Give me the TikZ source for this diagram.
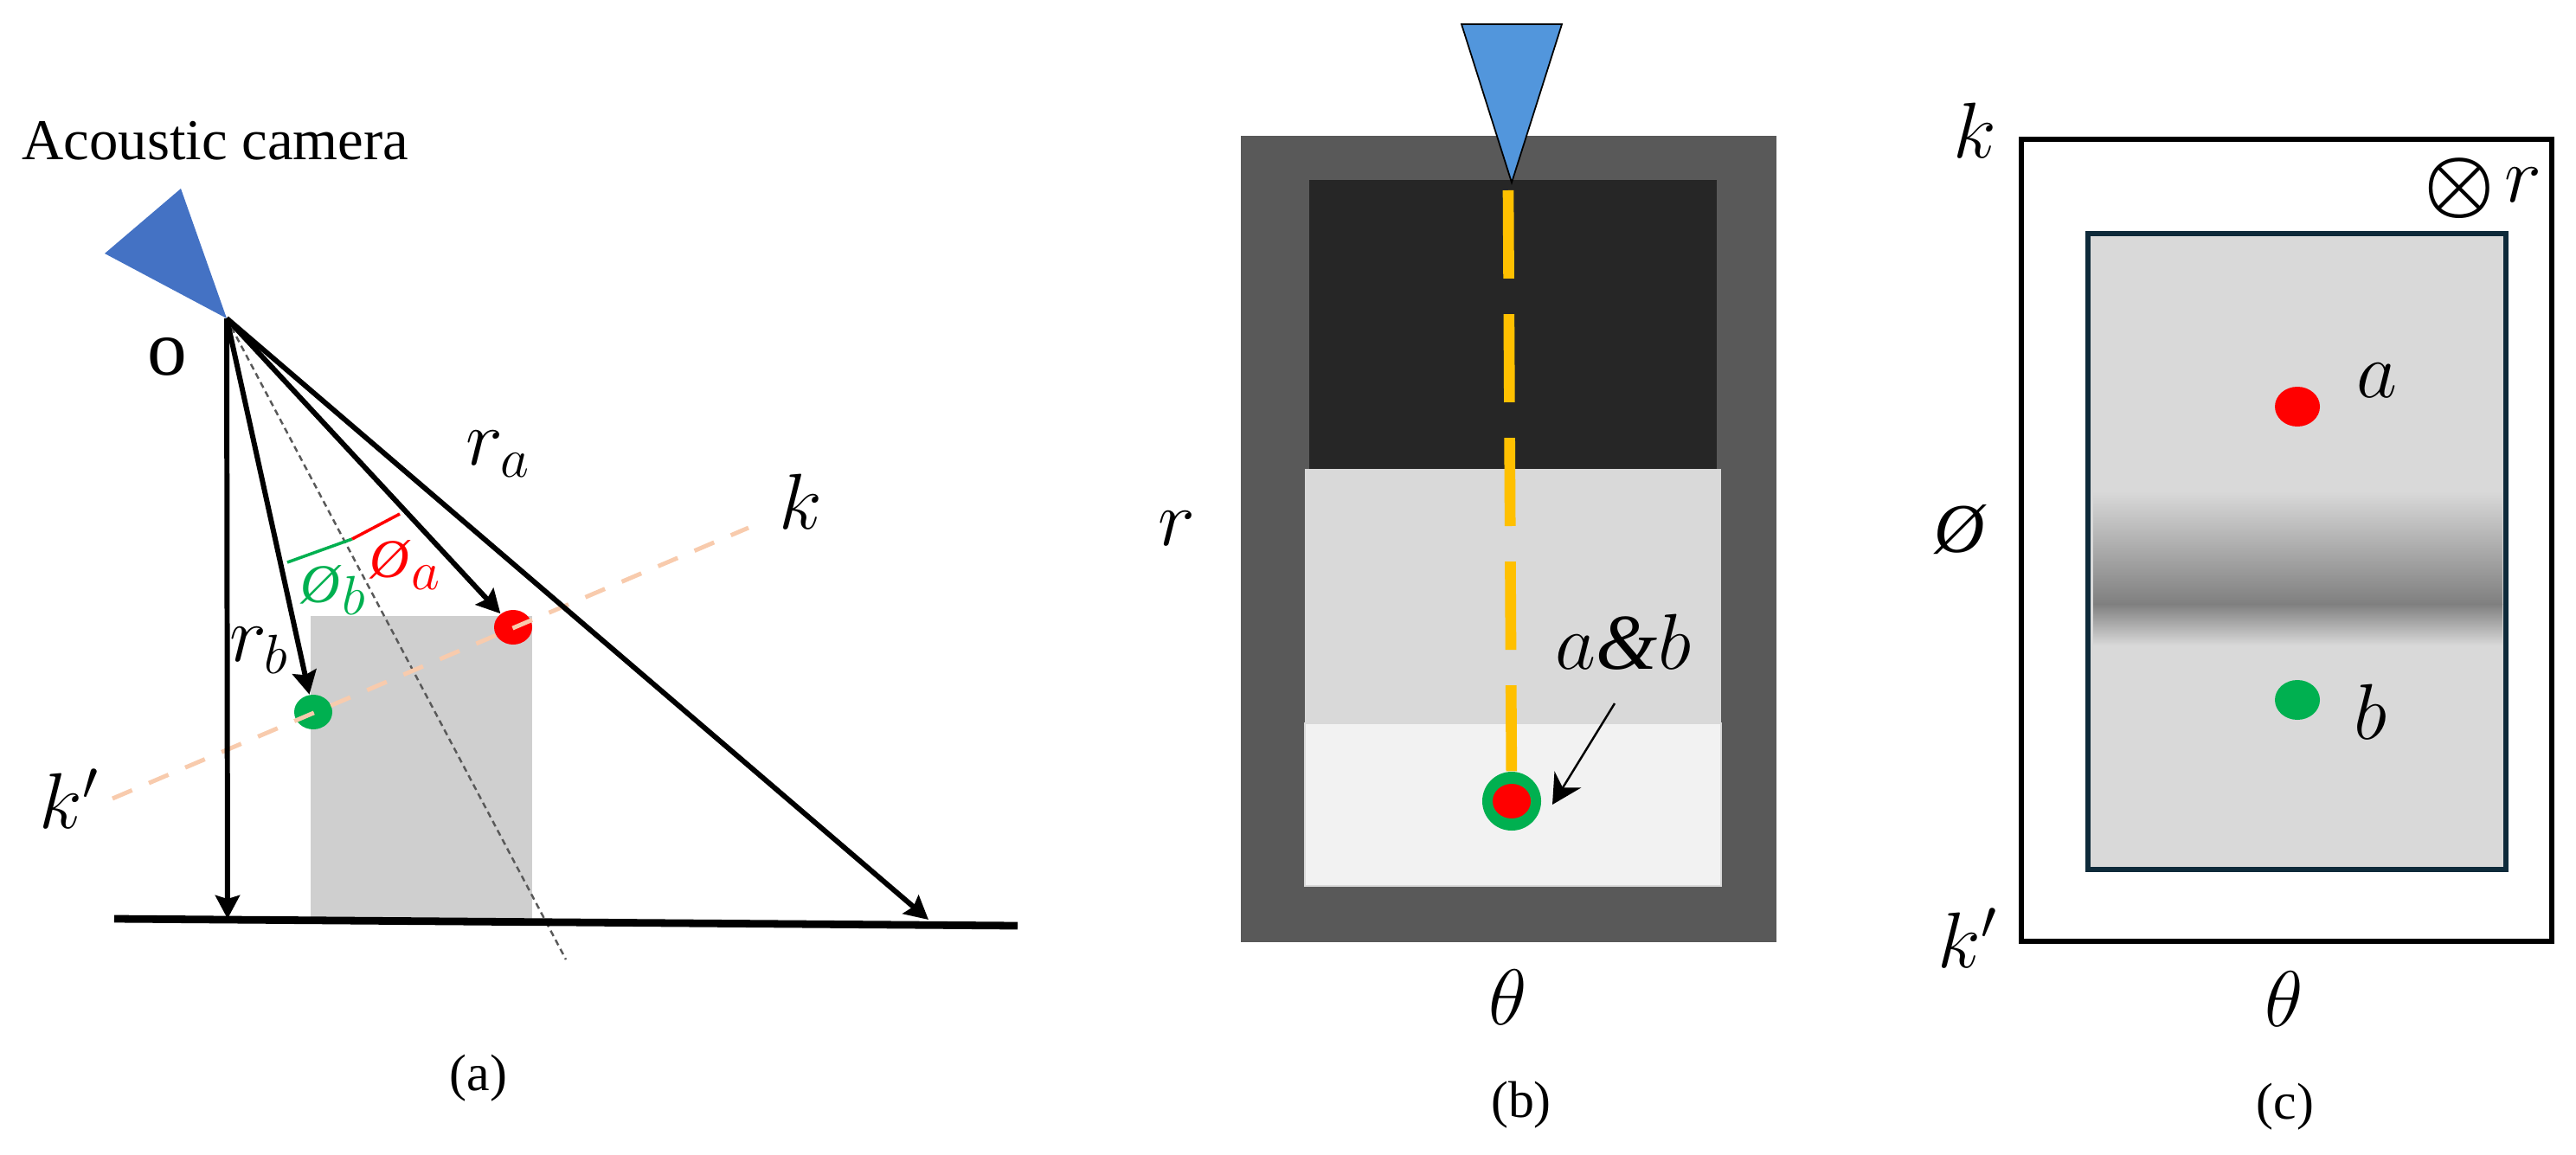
\documentclass[tikz,border=0pt]{standalone}
\usepackage{fix-cm}
\usepackage{amsmath,amssymb}
\usepackage{fontspec}
\setmainfont{Liberation Serif}
\usepackage{xcolor}
\usetikzlibrary{arrows.meta,shapes.geometric}

\definecolor{camblue}{HTML}{4472C4}
\definecolor{camlight}{HTML}{5296DC}
\definecolor{dotgreen}{HTML}{00B050}
\definecolor{dashpeach}{HTML}{F8CBAD}
\definecolor{beamgold}{HTML}{FFC000}
\definecolor{framenavy}{HTML}{0E2A3A}

\tikzset{
	ray/.style={line width=1.7pt, -{Stealth[length=2.7mm,width=2.8mm,inset=0.4mm]}},
	mathlabel/.style={inner sep=0pt, font=\fontsize{26}{30}\selectfont},
	caption/.style={inner sep=0pt, font=\fontsize{17}{20}\selectfont},
	spot/.style={ellipse, inner sep=0pt, minimum width=#1}
}
\newcommand{\phisign}[1]{{\fontsize{#1}{20}\selectfont\textit{\O}}}

\begin{document}
\begin{tikzpicture}[x=1cm, y=-1cm]
				\useasboundingbox (0,0) rectangle (29.77,13.34);

				% (a)
				\fill[fill=black!19] (3.59,7.12) rectangle (6.15,10.62);
				\fill[camblue] (2.09,2.18) -- (1.21,2.93) -- (2.62,3.68) -- cycle;

				\coordinate (O) at (2.62,3.68);
				\coordinate (floorL) at (1.32,10.62);
				\coordinate (floorR) at (11.76,10.70);
				\coordinate (footO) at (2.63,10.62);
				\coordinate (footFar) at (10.73,10.63);
				\coordinate (axisEnd) at (6.54,11.09);
				\coordinate (kEnd) at (8.65,6.10);
				\coordinate (kpEnd) at (1.30,9.23);
				\coordinate (arcL) at (3.32,6.50);
				\coordinate (arcM) at (4.07,6.23);
				\coordinate (arcR) at (4.62,5.94);

				\node[spot=0.44cm, minimum height=0.40cm, fill=red] (dotA) at (5.93,7.25) {};
				\node[spot=0.44cm, minimum height=0.40cm, fill=dotgreen] (dotB) at (3.62,8.23) {};

				\draw[line width=0.7pt, black!65, dash pattern=on 2pt off 1.4pt] (O) -- (axisEnd);
				\draw[line width=1.4pt, dashpeach, dash pattern=on 7pt off 6pt] (kpEnd) -- (kEnd);
				\draw[line width=2.5pt] (floorL) -- (floorR);
				\draw[ray] (O) -- (footO);
				\draw[ray] (O) -- (footFar);
				\draw[ray] (O) -- (dotA);
				\draw[ray] (O) -- (dotB);
				\draw[line width=1pt, dotgreen] (arcL) -- (arcM);
				\draw[line width=1pt, red] (arcM) -- (arcR);

				\node[inner sep=0pt, font=\fontsize{19}{22}\selectfont] (cam) at (2.49,1.63) {Acoustic camera};
				\node[inner sep=0pt, font=\fontsize{26}{30}\selectfont] (labO) at (1.93,4.12) {o};
				\node[mathlabel] (labRa) at (5.76,5.25) {$r_a$};
				\node[mathlabel] (labRb) at (3.00,7.52) {$r_b$};
				\node[mathlabel] (labK) at (9.25,5.80) {$k$};
				\node[mathlabel] (labKp) at (0.80,9.23) {$k'$};
				\node[mathlabel, text=dotgreen] (labPb) at (3.86,6.82) {\phisign{18}$_b$};
				\node[mathlabel, text=red] (labPa) at (4.69,6.53) {\phisign{18}$_a$};
				\node[caption] (capA) at (5.53,12.46) {(a)};

				% (b)
				\fill[black!65] (14.34,1.57) rectangle (20.53,10.89);
				\fill[black!85] (15.13,2.08) rectangle (19.84,5.42);
				\fill[black!15] (15.08,5.42) rectangle (19.89,8.36);
				\draw[fill=black!5, draw=black!15, line width=0.8pt] (15.08,8.36) rectangle (19.89,10.24);
				\draw[fill=camlight, line width=0.5pt] (16.89,0.28) -- (18.05,0.28) -- (17.47,2.11) -- cycle;

				\coordinate (beamTop) at (17.43,2.20);
				\node[spot=0.68cm, minimum height=0.68cm, fill=dotgreen] (spotOuter) at (17.47,9.26) {};
				\node[spot=0.44cm, minimum height=0.40cm, fill=red] (spotInner) at (17.47,9.26) {};
				\draw[line width=3.6pt, beamgold, dash pattern=on 29pt off 11.7pt] (beamTop) -- (spotOuter);

				\node[mathlabel] (labAB) at (18.76,7.42) {$a$\textit{\&}$b$};
				\coordinate (pointerTail) at (18.66,8.13);
				\coordinate (pointerTip) at (17.94,9.30);
				\draw[line width=0.7pt, -{Stealth[length=3.4mm,width=3.6mm]}] (pointerTail) -- (pointerTip);
				\node[mathlabel] (labR) at (13.60,6.11) {$r$};
				\node[mathlabel] (labThetaB) at (17.43,11.53) {$\theta$};
				\node[caption] (capB) at (17.58,12.77) {(b)};

				% (c)
				\draw[line width=1.6pt] (23.36,1.61) rectangle (29.49,10.88);
				\draw[fill=black!15, draw=framenavy, line width=1.5pt] (24.13,2.70) rectangle (28.96,10.05);
				\shade[top color=black!15, bottom color=black!50] (24.19,5.68) rectangle (28.92,6.98);
				\shade[top color=black!50, bottom color=black!15] (24.19,6.98) rectangle (28.92,7.46);

				\node[spot=0.52cm, minimum height=0.46cm, fill=red] (dotCa) at (26.55,4.70) {};
				\node[spot=0.52cm, minimum height=0.46cm, fill=dotgreen] (dotCb) at (26.55,8.09) {};

				\node[mathlabel] (labCa) at (27.47,4.40) {$a$};
				\node[mathlabel] (labCb) at (27.39,8.23) {$b$};
				\node[mathlabel] (labCk) at (22.82,1.51) {$k$};
				\node[mathlabel] (labCkp) at (22.74,10.84) {$k'$};
				\node[mathlabel] (labCphi) at (22.66,6.12) {\phisign{23}};
				\node[mathlabel] (labCtheta) at (26.40,11.55) {$\theta$};
				\node[mathlabel] (labCx) at (28.42,2.18) {$\boldsymbol{\otimes}$};
				\node[mathlabel] (labCr) at (29.16,2.14) {$r$};
				\node[caption] (capC) at (26.41,12.79) {(c)};
\end{tikzpicture}
\end{document}
